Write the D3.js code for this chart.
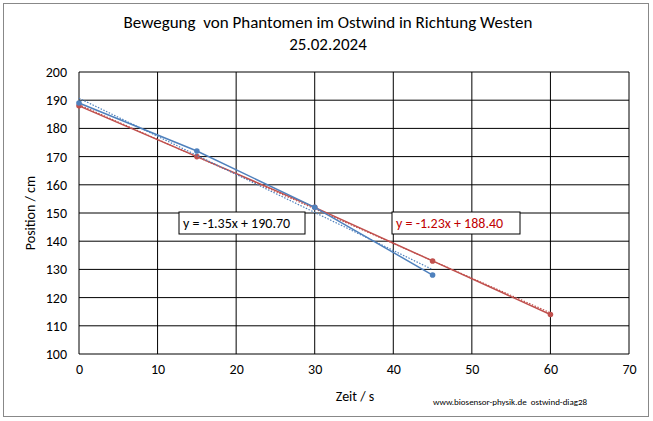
<!DOCTYPE html><html><head><meta charset="utf-8"><script src="https://cdn.jsdelivr.net/npm/d3@7"></script>
<style>body{margin:0;background:#fff}text{font-family:Calibri,Carlito,"Open Sans",sans-serif;white-space:pre}</style></head><body><svg width="653" height="421"></svg>
<script>
const blueX=[0,15,30,45], blueY=[189,172,152,128];
const redX=[0,15,30,45,60], redY=[188,170,152,133,114];
const blueFit={m:-1.35,b:190.70,x0:0,x1:45}, redFit={m:-1.23,b:188.40,x0:0,x1:60};
const xTicks=[0,10,20,30,40,50,60,70], yTicks=[100,110,120,130,140,150,160,170,180,190,200];
const svg=d3.select("svg");
svg.append("rect").attr("x",3.5).attr("y",3.5).attr("width",645).attr("height",413).attr("fill","#fff").attr("stroke","#888");
const x=d3.scaleLinear().domain([0,70]).range([79,629]);
const y=d3.scaleLinear().domain([100,200]).range([354,72]);
const g=svg.append("g");
xTicks.forEach(t=>g.append("line").attr("x1",x(t)).attr("x2",x(t)).attr("y1",y(100)).attr("y2",y(200)).attr("stroke","#000"));
yTicks.forEach(t=>g.append("line").attr("x1",x(0)).attr("x2",x(70)).attr("y1",y(t)).attr("y2",y(t)).attr("stroke","#000"));
svg.append("g").attr("transform","translate(0,354)").call(d3.axisBottom(x).tickValues(xTicks).tickSize(0).tickPadding(10)).call(a=>{a.select(".domain").remove();a.selectAll("text").attr("font-size",14).attr("fill","#000")});
svg.append("g").attr("transform","translate(79,0)").call(d3.axisLeft(y).tickValues(yTicks).tickSize(0).tickPadding(12)).call(a=>{a.select(".domain").remove();a.selectAll("text").attr("font-size",14).attr("fill","#000")});
const line=d3.line().x(d=>x(d[0])).y(d=>y(d[1]));
function series(X,Y,fit,col,fitCol){
 svg.append("path").attr("d",line([[fit.x0,fit.m*fit.x0+fit.b],[fit.x1,fit.m*fit.x1+fit.b]])).attr("stroke",fitCol).attr("stroke-dasharray","1.5,1.5").attr("fill","none").attr("stroke-width",1.2);
 svg.append("path").attr("d",line(X.map((v,i)=>[v,Y[i]]))).attr("stroke",col).attr("fill","none").attr("stroke-width",1.5);
 X.forEach((v,i)=>svg.append("circle").attr("cx",x(v)).attr("cy",y(Y[i])).attr("r",2.8).attr("fill",col));
}
series(redX,redY,redFit,"#c0504d","#c0504d");
series(blueX,blueY,blueFit,"#4f81bd","#4f81bd");
function box(bx,by,w,txt,col){svg.append("rect").attr("x",bx).attr("y",by).attr("width",w).attr("height",22).attr("fill","#fff").attr("stroke","#000");
 svg.append("text").attr("x",bx+4).attr("y",by+16).attr("font-size",14).attr("fill",col).text(txt);}
box(179,212,126,"y = -1.35x + 190.70","#000");
box(392,212,128,"y = -1.23x + 188.40","#c00000");
svg.append("text").attr("x",328).attr("y",28).attr("text-anchor","middle").attr("font-size",17).text("Bewegung  von Phantomen im Ostwind in Richtung Westen");
svg.append("text").attr("x",328).attr("y",50).attr("text-anchor","middle").attr("font-size",17).text("25.02.2024");
svg.append("text").attr("x",355).attr("y",401).attr("text-anchor","middle").attr("font-size",14).text("Zeit / s");
svg.append("text").attr("transform","translate(35,213) rotate(-90)").attr("text-anchor","middle").attr("font-size",14).text("Position / cm");
svg.append("text").attr("x",433).attr("y",405).attr("font-size",9).text("www.biosensor-physik.de  ostwind-diag28");
</script></body></html>
